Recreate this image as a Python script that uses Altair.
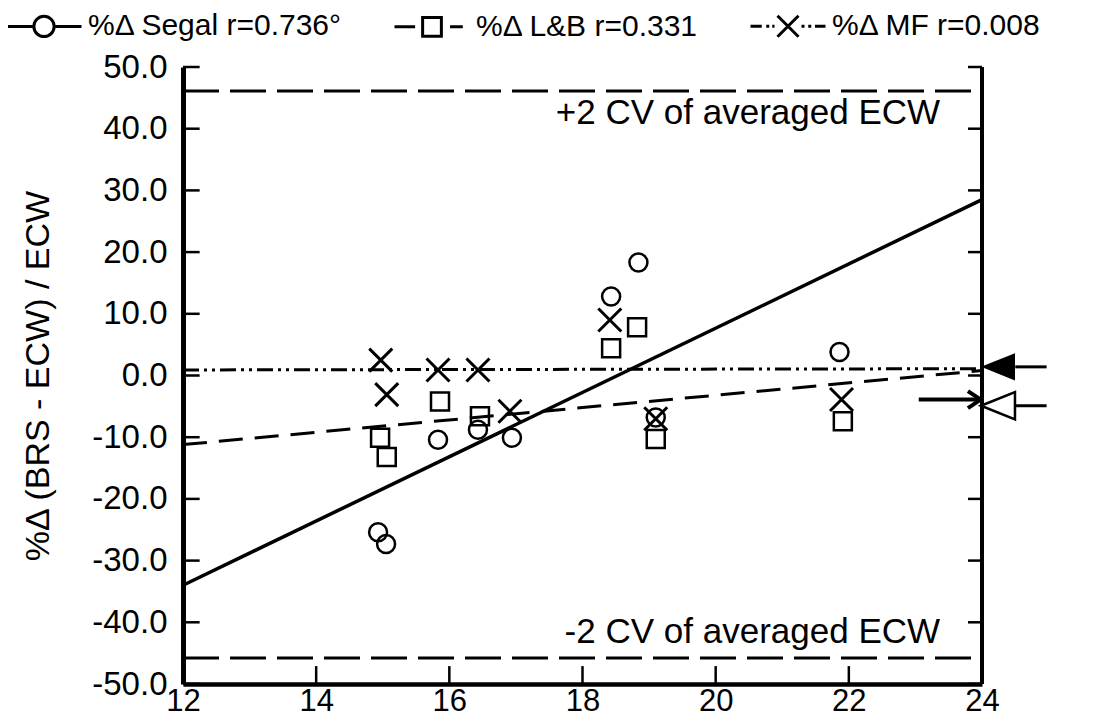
import altair as alt
import pandas as pd

FONT = "Liberation Sans, Arial, Helvetica, sans-serif"

# ---------------- data ----------------
series = ["%Δ Segal r=0.736°", "%Δ L&B r=0.331", "%Δ MF r=0.008"]

segal_x = [14.93, 15.05, 15.83, 16.43, 16.94, 18.43, 18.84, 19.10, 21.86]
segal_y = [-25.4, -27.3, -10.4, -8.8, -10.1, 12.8, 18.3, -6.8, 3.8]

lb_x = [14.96, 15.06, 15.86, 16.46, 18.43, 18.82, 19.10, 21.91]
lb_y = [-10.1, -13.2, -4.2, -6.6, 4.4, 7.8, -10.3, -7.4]

mf_x = [14.97, 15.06, 15.83, 16.43, 16.91, 18.41, 19.10, 21.89]
mf_y = [2.5, -3.1, 0.9, 0.9, -5.8, 9.0, -7.0, -3.9]

fit_x = [12, 24]
segal_fit = [-34.0, 28.5]
lb_fit = [-11.2, 0.8]
mf_fit = [0.9, 1.1]

cv_y = [46.1, -45.8]
cv_text = ["+2 CV of averaged ECW", "-2 CV of averaged ECW"]
cv_text_y = [40.8, -43.3]

side_marker_y = [1.4, -4.9]      # filled (MF) and hollow (L&B) arrowheads at right
pointer_y = [-3.9]               # arrow pointing at the right axis

x_ticks = [12, 14, 16, 18, 20, 22, 24]
y_ticks = [-50, -40, -30, -20, -10, 0, 10, 20, 30, 40, 50]

# ---------------- geometry / styles ----------------
W, H = 799, 617
X0, X1, Y0, Y1 = 12, 24, -50, 50
xs = alt.Scale(domain=[X0, X1], nice=False, zero=False)
ys = alt.Scale(domain=[Y0, Y1], nice=False, zero=False)

x_axis = alt.Axis(values=x_ticks, ticks=False, grid=False, title=None,
                  domainWidth=4.5, domainColor="black", labelFont=FONT,
                  labelFontSize=31, labelColor="black", labelPadding=2,
                  labelFlush=False)
y_axis = alt.Axis(values=y_ticks, ticks=False, grid=False,
                  title="%Δ (BRS - ECW) / ECW", titleFont=FONT,
                  titleFontSize=34, titleFontWeight="normal", titleColor="black",
                  titlePadding=36,
                  labelExpr="replace(format(datum.value, '.1f'), '\u2212', '-')",
                  domainWidth=5, domainColor="black", labelFont=FONT,
                  labelFontSize=33, labelColor="black", labelPadding=16,
                  labelFlush=False)


def X(field="x"):
    return alt.X(f"{field}:Q", scale=xs, axis=x_axis)


def Y(field="y"):
    return alt.Y(f"{field}:Q", scale=ys, axis=y_axis)


X_PATH = "M-1,-1L1,1M-1,1L1,-1"
TRI_PATH = "M-1,0L1,-0.8L1,0.8Z"
CHEVRON = "M-1.5,-1L0,0L-1.5,1"

legend_paths = [
    "M-1,0H-0.27M0.27,0H1M0.27,0A0.27,0.27 0 1,1 -0.27,0A0.27,0.27 0 1,1 0.27,0",
    "M-1,0H-0.45M-0.25,-0.25H0.25V0.25H-0.25ZM0.48,0H0.82",
    "M-1,0H-0.7M-0.58,0H-0.5M-0.42,0H-0.36M-0.28,-0.28L0.28,0.28M-0.28,0.28L0.28,-0.28"
    "M0.36,0H0.44M0.54,0H0.62M0.72,0H1",
]

# ---------------- layers ----------------
layers = []

# carrier layer for the left and bottom axes
axis_df = pd.DataFrame({"x": [X0, X1], "y": [Y0, Y1]})
layers.append(alt.Chart(axis_df).mark_point(opacity=0).encode(x=X(), y=Y()))

# right frame line
frame_df = pd.DataFrame({"x": [X1], "y": [Y0], "y2": [Y1]})
layers.append(alt.Chart(frame_df).mark_rule(color="black", strokeWidth=4).encode(
    x=X(), y=Y(), y2="y2:Q"))

# inward ticks
ytick_df = pd.DataFrame({"y": y_ticks})
layers.append(alt.Chart(ytick_df).transform_calculate(a=str(X0), b=str(X0 + 0.25))
              .mark_rule(color="black", strokeWidth=2.5)
              .encode(x=X("a"), x2="b:Q", y=Y()))
layers.append(alt.Chart(ytick_df).transform_calculate(a=str(X1 - 0.21), b=str(X1))
              .mark_rule(color="black", strokeWidth=2.5)
              .encode(x=X("a"), x2="b:Q", y=Y()))
xtick_df = pd.DataFrame({"x": x_ticks[1:-1]})
layers.append(alt.Chart(xtick_df).transform_calculate(a=str(Y0), b=str(Y0 + 2.9))
              .mark_rule(color="black", strokeWidth=2.5)
              .encode(x=X(), y=Y("a"), y2="b:Q"))

# +/- 2 CV lines
cv_df = pd.DataFrame({"y": cv_y, "x": [X0] * 2, "x2": [X1] * 2})
layers.append(alt.Chart(cv_df).mark_rule(color="black", strokeWidth=3, strokeDash=[36, 11])
              .encode(x=X(), x2="x2:Q", y=Y()))
cvt_df = pd.DataFrame({"t": cv_text, "y": cv_text_y, "x": [23.37] * 2})
layers.append(alt.Chart(cvt_df).mark_text(align="right", baseline="alphabetic", font=FONT,
                                          fontSize=35, color="black")
              .encode(x=X(), y=Y(), text="t:N"))

# regression lines
for fy, dash, sw in [(segal_fit, None, 3.5), (lb_fit, [24, 12], 3),
                     (mf_fit, [16, 5, 3, 5, 3, 5], 3)]:
    df = pd.DataFrame({"x": fit_x, "y": fy})
    kw = dict(color="black", strokeWidth=sw)
    if dash:
        kw["strokeDash"] = dash
    layers.append(alt.Chart(df).mark_line(**kw).encode(x=X(), y=Y()))

# data points
seg_df = pd.DataFrame({"x": segal_x, "y": segal_y})
layers.append(alt.Chart(seg_df).mark_point(shape="circle", size=324, filled=False,
                                           color="black", strokeWidth=2.5, opacity=1)
              .encode(x=X(), y=Y()))
lb_df = pd.DataFrame({"x": lb_x, "y": lb_y})
layers.append(alt.Chart(lb_df).mark_point(shape="square", size=324, filled=False,
                                          color="black", strokeWidth=2.5, opacity=1)
              .encode(x=X(), y=Y()))
mf_df = pd.DataFrame({"x": mf_x, "y": mf_y})
layers.append(alt.Chart(mf_df).mark_point(shape=X_PATH, size=529, filled=False,
                                          color="black", strokeWidth=3, opacity=1)
              .encode(x=X(), y=Y()))

# arrowheads and pointer on the right
side_df = pd.DataFrame({"y": side_marker_y, "x": [24.24] * 2, "x1": [24.5] * 2,
                        "x2": [24.97] * 2, "k": ["filled", "hollow"]})
layers.append(alt.Chart(side_df).mark_rule(color="black", strokeWidth=3)
              .encode(x=X("x1"), x2="x2:Q", y=Y()))
layers.append(alt.Chart(side_df).transform_filter("datum.k == 'filled'")
              .mark_point(shape=TRI_PATH, size=1156, filled=True, color="black", opacity=1)
              .encode(x=X(), y=Y()))
layers.append(alt.Chart(side_df).transform_filter("datum.k == 'hollow'")
              .mark_point(shape=TRI_PATH, size=1156, filled=True, fill="white",
                          stroke="black", strokeWidth=2.5, opacity=1)
              .encode(x=X(), y=Y()))
ptr_df = pd.DataFrame({"y": pointer_y, "a": [23.05], "b": [23.98]})
layers.append(alt.Chart(ptr_df).mark_rule(color="black", strokeWidth=4)
              .encode(x=X("a"), x2="b:Q", y=Y()))
layers.append(alt.Chart(ptr_df).mark_point(shape=CHEVRON, size=289, filled=False,
                                           color="black", strokeWidth=4, opacity=1)
              .encode(x=X("b"), y=Y()))

# legend (native legend with custom line+symbol glyphs)
leg_df = pd.DataFrame({"series": series})
layers.append(alt.Chart(leg_df).transform_filter("false")
              .mark_point(filled=False, color="black")
              .encode(shape=alt.Shape("series:N",
                                      scale=alt.Scale(domain=series, range=legend_paths),
                                      sort=series,
                                      legend=alt.Legend(
                                          orient="none", legendX=-178, legendY=-80,
                                          direction="horizontal", title=None,
                                          symbolSize=5625, symbolStrokeWidth=3,
                                          symbolStrokeColor="black", symbolFillColor="white",
                                          symbolOpacity=1,
                                          labelFont=FONT, labelFontSize=30,
                                          labelColor="black", labelLimit=0,
                                          labelOffset=5, columnPadding=45, padding=0))))

chart = alt.layer(*layers).properties(
    width=W, height=H,
    autosize=alt.AutoSizeParams(type="none"),
    padding={"left": 175, "top": 59, "right": 116, "bottom": 33},
    background="white",
).configure_view(stroke=None)

chart.save("out.html", embed_options={"renderer": "svg", "actions": False})
